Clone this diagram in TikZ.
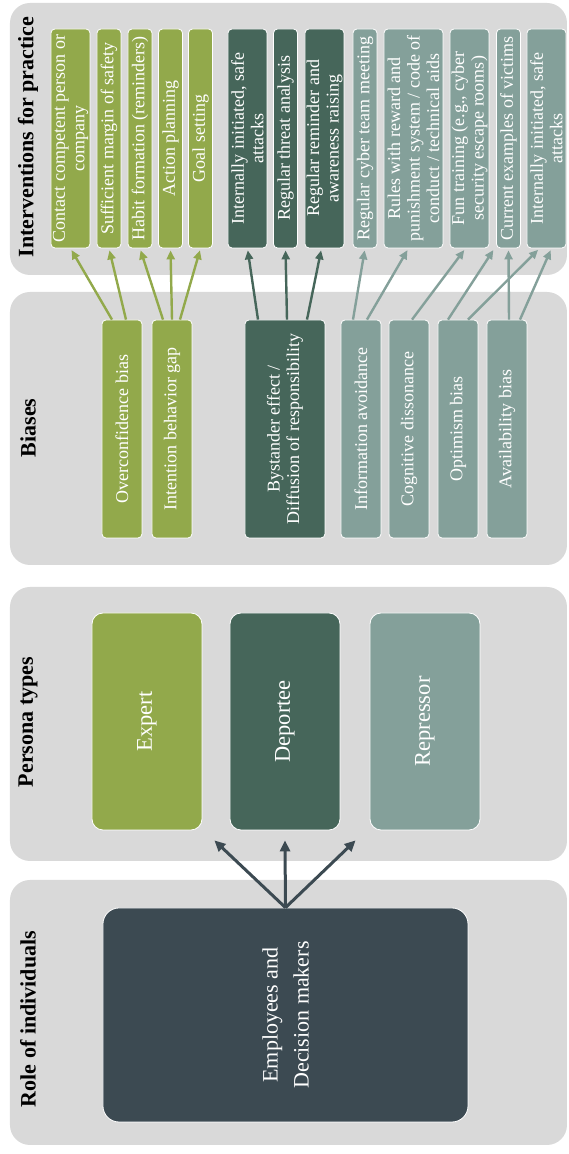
\documentclass[tikz,border=0pt]{standalone}
\usepackage{fontspec}
\setmainfont{Liberation Serif}
\usepackage{xcolor}
\usepackage{tikz}
\usetikzlibrary{arrows.meta,calc}
\definecolor{panelgray}{HTML}{D9D9D9}
\definecolor{olive}{HTML}{92A94B}
\definecolor{pine}{HTML}{46665A}
\definecolor{sage}{HTML}{84A09A}
\definecolor{slate}{HTML}{3C4A52}

\begin{document}
\begin{tikzpicture}[x=1pt,y=1pt,rotate=90,transform shape,>={Triangle[length=9pt,width=8pt]}]
\tikzset{panel/.style={fill=panelgray,rounded corners=20pt},
heading/.style={font=\fontsize{22}{26}\selectfont\bfseries},
card/.style={draw=white,line width=.8pt,rounded corners=4pt,inner sep=1pt,text=white,align=center,font=\fontsize{18}{19.5}\selectfont},
bigcard/.style={card,rounded corners=11pt,font=\fontsize{22.5}{31}\selectfont,minimum width=217pt,minimum height=110pt},
link/.style={->,line width=2.4pt,shorten >=2pt},
fan/.style={->,>={Triangle[length=11pt,width=10pt]},line width=3pt,draw=slate}}
\useasboundingbox (0,0) rectangle (1154,569);
% panels
\fill[panel] (9,2) rectangle (274,559);
\fill[panel] (293,2) rectangle (567,559);
\fill[panel] (589,2) rectangle (862,559);
\fill[panel] (879,2) rectangle (1151,559);
\node[heading] (troles) at (135,541) {Role of individuals};
\node[heading] (tpers) at (432,541) {Persona types};
\node[heading] (tbias) at (726,541) {Biases};
\node[heading] (tint) at (1017,541) {Interventions for practice};
% role of individuals
\node[bigcard,fill=slate,rounded corners=16pt,minimum width=214pt,minimum height=365pt,font=\fontsize{22}{31}\selectfont] (emp) at (139,283.5) {Employees and\\Decision makers};
% persona types
\node[bigcard,fill=olive] (expert) at (432.5,422) {Expert};
\node[bigcard,fill=pine] (deport) at (432.5,284) {Deportee};
\node[bigcard,fill=sage] (repress) at (432.5,144) {Repressor};
\draw[fan] (emp.east) -- ([shift={(-10pt,-12pt)}]expert.south west);
\draw[fan] (emp.east) -- ([xshift=-10pt]deport.west);
\draw[fan] (emp.east) -- ([shift={(-10pt,14pt)}]repress.north west);
% biases
\tikzset{bias/.style={card,minimum width=218pt,minimum height=40pt}}
\node[bias,fill=olive] (over) at (725,447) {Overconfidence bias};
\node[bias,fill=olive] (int) at (725,397) {Intention behavior gap};
\node[bias,fill=pine,minimum height=80pt] (bys) at (725,284) {Bystander effect /\\Diffusion of responsibility};
\node[bias,fill=sage] (info) at (725,208) {Information avoidance};
\node[bias,fill=sage] (cog) at (725,160) {Cognitive dissonance};
\node[bias,fill=sage] (opt) at (725,111) {Optimism bias};
\node[bias,fill=sage] (avail) at (725,62) {Availability bias};
% interventions
\tikzset{step1/.style={card,minimum width=219pt,minimum height=24pt},
step2/.style={step1,minimum height=39pt}}
\node[step2,fill=olive] (i1) at (1015.5,498.5) {Contact competent person or\\company};
\node[step1,fill=olive] (i2) at (1015.5,460) {Sufficient margin of safety};
\node[step1,fill=olive] (i3) at (1015.5,429) {Habit formation (reminders)};
\node[step1,fill=olive] (i4) at (1015.5,398.5) {Action planning};
\node[step1,fill=olive] (i5) at (1015.5,368.5) {Goal setting};
\node[step2,fill=pine] (i6) at (1015.5,321.5) {Internally initiated, safe\\attacks};
\node[step1,fill=pine] (i7) at (1015.5,283.5) {Regular threat analysis};
\node[step2,fill=pine] (i8) at (1015.5,244.5) {Regular reminder and\\awareness raising};
\node[step1,fill=sage] (i9) at (1015.5,204) {Regular cyber team meeting};
\node[step1,fill=sage,minimum height=59pt] (i10) at (1015.5,155.5) {Rules with reward and\\punishment system / code of\\conduct / technical aids};
\node[step2,fill=sage] (i11) at (1015.5,99.5) {Fun training (e.g., cyber\\security escape rooms)};
\node[step1,fill=sage] (i12) at (1015.5,60.5) {Current examples of victims};
\node[step2,fill=sage] (i13) at (1015.5,22.5) {Internally initiated, safe\\attacks};
% bias -> intervention
\foreach \s/\a/\t/\b/\c in {over/10/i1/0/olive,over/-4/i2/0/olive,int/9/i3/0/olive,int/0/i4/0/olive,int/-8/i5/0/olive,
bys/27/i6/0/pine,bys/-2/i7/0/pine,bys/-22/i8/3/pine,
info/8/i9/0/sage,info/-6/i10/5/sage,cog/-3/i11/4/sage,opt/10/i12/14/sage,opt/-10/i13/7/sage,avail/-2/i12/0/sage,avail/-13/i13/-5/sage}
{\draw[link,\c] ([yshift=\a pt]\s.east) -- ([yshift=\b pt]\t.west);}
\end{tikzpicture}
\end{document}
